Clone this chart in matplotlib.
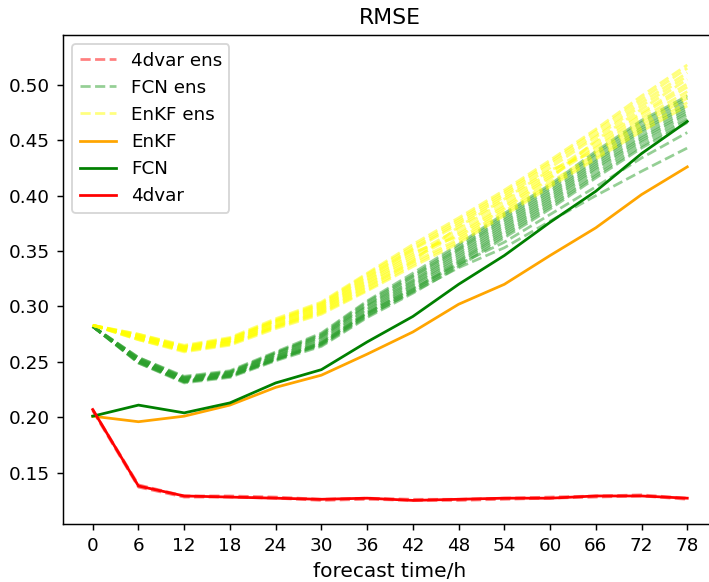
import matplotlib
matplotlib.use("Agg")
import matplotlib.pyplot as plt

# forecast lead times (h)
lead = [0, 6, 12, 18, 24, 30, 36, 42, 48, 54, 60, 66, 72, 78]

# deterministic runs
enkf = [0.201, 0.196, 0.201, 0.211, 0.227, 0.238, 0.257, 0.277, 0.302, 0.320, 0.346, 0.371, 0.401, 0.426]
fcn = [0.201, 0.211, 0.204, 0.213, 0.231, 0.243, 0.268, 0.291, 0.320, 0.346, 0.376, 0.404, 0.438, 0.467]
fourdvar = [0.207, 0.138, 0.129, 0.128, 0.127, 0.126, 0.127, 0.125, 0.126, 0.127, 0.127, 0.129, 0.129, 0.127]

# ensemble members
fourdvar_ens = [
    [0.207, 0.139, 0.129, 0.129, 0.128, 0.126, 0.127, 0.126, 0.126, 0.127, 0.128, 0.129, 0.130, 0.127],
    [0.206, 0.137, 0.128, 0.128, 0.127, 0.125, 0.126, 0.125, 0.125, 0.126, 0.127, 0.128, 0.129, 0.126],
]

fcn_ens = [
    [0.282, 0.250, 0.232, 0.237, 0.252, 0.266, 0.292, 0.313, 0.335, 0.353, 0.377, 0.400, 0.422, 0.443],
    [0.282, 0.251, 0.233, 0.238, 0.253, 0.267, 0.294, 0.316, 0.338, 0.358, 0.383, 0.408, 0.434, 0.457],
    [0.282, 0.249, 0.231, 0.236, 0.251, 0.264, 0.290, 0.312, 0.336, 0.362, 0.388, 0.416, 0.443, 0.466],
    [0.282, 0.249, 0.232, 0.237, 0.252, 0.265, 0.291, 0.314, 0.338, 0.364, 0.390, 0.418, 0.445, 0.468],
    [0.282, 0.250, 0.232, 0.237, 0.252, 0.266, 0.293, 0.315, 0.340, 0.366, 0.392, 0.420, 0.448, 0.470],
    [0.282, 0.250, 0.233, 0.238, 0.253, 0.267, 0.294, 0.317, 0.341, 0.368, 0.394, 0.423, 0.450, 0.473],
    [0.282, 0.251, 0.233, 0.238, 0.254, 0.268, 0.295, 0.319, 0.343, 0.370, 0.396, 0.425, 0.452, 0.475],
    [0.282, 0.251, 0.234, 0.239, 0.255, 0.269, 0.297, 0.320, 0.345, 0.372, 0.398, 0.427, 0.454, 0.477],
    [0.282, 0.252, 0.234, 0.239, 0.255, 0.271, 0.298, 0.322, 0.347, 0.374, 0.400, 0.429, 0.457, 0.479],
    [0.282, 0.252, 0.235, 0.240, 0.256, 0.272, 0.300, 0.323, 0.349, 0.376, 0.402, 0.431, 0.459, 0.481],
    [0.282, 0.253, 0.235, 0.240, 0.257, 0.273, 0.301, 0.325, 0.351, 0.378, 0.404, 0.433, 0.461, 0.483],
    [0.282, 0.253, 0.236, 0.241, 0.258, 0.274, 0.302, 0.327, 0.352, 0.380, 0.406, 0.436, 0.463, 0.486],
    [0.282, 0.254, 0.236, 0.241, 0.258, 0.275, 0.304, 0.328, 0.354, 0.382, 0.408, 0.438, 0.466, 0.488],
    [0.282, 0.254, 0.237, 0.242, 0.259, 0.276, 0.305, 0.330, 0.356, 0.384, 0.410, 0.440, 0.468, 0.490],
]

enkf_ens = [
    [0.283, 0.270, 0.259, 0.265, 0.280, 0.293, 0.314, 0.336, 0.357, 0.382, 0.408, 0.433, 0.458, 0.481],
    [0.283, 0.270, 0.260, 0.266, 0.281, 0.294, 0.315, 0.338, 0.359, 0.384, 0.410, 0.435, 0.461, 0.484],
    [0.283, 0.271, 0.260, 0.266, 0.282, 0.295, 0.317, 0.340, 0.361, 0.386, 0.412, 0.438, 0.464, 0.488],
    [0.283, 0.271, 0.261, 0.267, 0.282, 0.296, 0.318, 0.341, 0.372, 0.397, 0.423, 0.440, 0.467, 0.491],
    [0.283, 0.272, 0.261, 0.268, 0.283, 0.297, 0.320, 0.343, 0.365, 0.390, 0.417, 0.443, 0.470, 0.494],
    [0.283, 0.272, 0.262, 0.268, 0.284, 0.298, 0.321, 0.345, 0.367, 0.392, 0.419, 0.445, 0.473, 0.498],
    [0.283, 0.273, 0.262, 0.269, 0.285, 0.299, 0.323, 0.347, 0.370, 0.395, 0.421, 0.448, 0.475, 0.501],
    [0.283, 0.273, 0.263, 0.269, 0.286, 0.300, 0.324, 0.349, 0.363, 0.388, 0.415, 0.450, 0.478, 0.505],
    [0.283, 0.274, 0.263, 0.270, 0.287, 0.301, 0.326, 0.351, 0.374, 0.399, 0.425, 0.453, 0.481, 0.508],
    [0.283, 0.274, 0.264, 0.271, 0.287, 0.302, 0.327, 0.352, 0.376, 0.401, 0.428, 0.455, 0.484, 0.511],
    [0.283, 0.275, 0.264, 0.271, 0.288, 0.303, 0.329, 0.354, 0.378, 0.403, 0.430, 0.458, 0.487, 0.515],
    [0.283, 0.275, 0.265, 0.272, 0.289, 0.304, 0.330, 0.356, 0.380, 0.405, 0.432, 0.460, 0.490, 0.518],
]

dpi = 132
fig = plt.figure(figsize=(709 / dpi, 582 / dpi), dpi=dpi)
ax = fig.add_axes([63 / 709, 1 - 524 / 582, 654 / 709, 489 / 582])

for i, m in enumerate(fourdvar_ens):
    ax.plot(lead, m, "--", color="red", alpha=0.5, label="4dvar ens" if i == 0 else None)
for i, m in enumerate(fcn_ens):
    ax.plot(lead, m, "--", color="tab:green", alpha=0.5, label="FCN ens" if i == 0 else None)
for i, m in enumerate(enkf_ens):
    ax.plot(lead, m, "--", color="yellow", alpha=0.5, label="EnKF ens" if i == 0 else None)

ax.plot(lead, enkf, color="orange", label="EnKF")
ax.plot(lead, fcn, color="green", label="FCN")
ax.plot(lead, fourdvar, color="red", label="4dvar")

ax.set_xticks(lead)
ax.set_ylim(0.1037, 0.545)
ax.set_xlabel("forecast time/h", fontsize=11)
ax.set_title("RMSE")
ax.legend(loc="upper left")

fig.savefig("out.png", dpi=dpi)
